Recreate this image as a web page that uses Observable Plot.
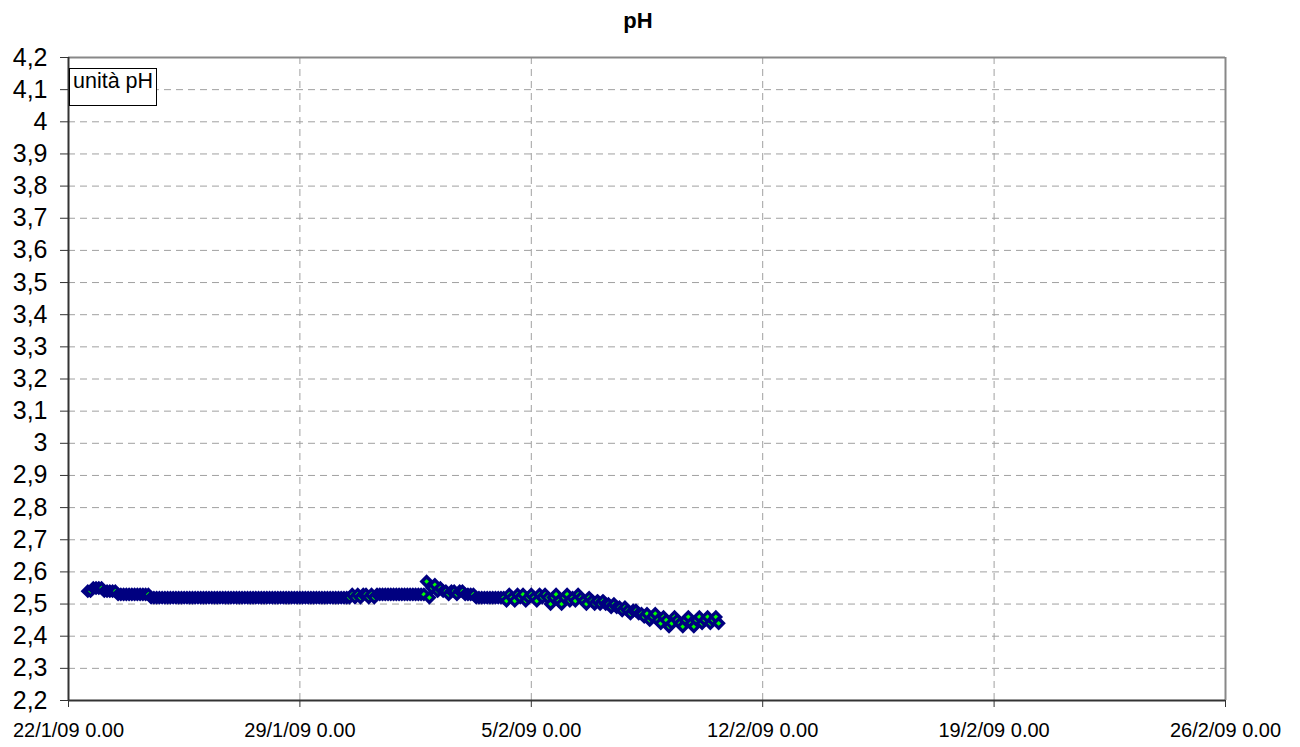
<!DOCTYPE html>
<html>
<head>
<meta charset="utf-8">
<script src="https://cdn.jsdelivr.net/npm/d3@7"></script>
<script src="https://cdn.jsdelivr.net/npm/@observablehq/plot@0.6"></script>
<style>
  html, body { margin: 0; padding: 0; background: #fff; }
  #wrap { position: relative; width: 1300px; height: 747px; }
  #unit { position: absolute; left: 69px; top: 68px; height: 36px; line-height: 36px;
          padding: 0 3px 0 3px; border: 1px solid #000; background: #fff;
          font: 21.5px "Liberation Sans", Arial, sans-serif; color: #000; }
</style>
</head>
<body>
<div id="wrap"></div>
<script>
// Chart title and unit label
const title = "pH";
const unitLabel = "unità pH";

// X-axis tick dates (weekly)
const xTickDates = ["2009-01-22", "2009-01-29", "2009-02-05", "2009-02-12", "2009-02-19", "2009-02-26"];
// Y-axis tick values
const yTickValues = [2.2, 2.3, 2.4, 2.5, 2.6, 2.7, 2.8, 2.9, 3, 3.1, 3.2, 3.3, 3.4, 3.5, 3.6, 3.7, 3.8, 3.9, 4, 4.1, 4.2];

// Sampling: first reading 22/1/09 14:00, one reading every 2 hours
const firstReading = "2009-01-22T14:00:00Z";
const samplingHours = 2;

// pH readings
const phValues = [
  2.54, 2.54,
  2.55, 2.55, 2.55, 2.55,
  2.54, 2.54, 2.54, 2.54, 2.54,
  2.53, 2.53, 2.53, 2.53, 2.53, 2.53, 2.53, 2.53, 2.53, 2.53, 2.53, 2.53,
  2.52, 2.52, 2.52, 2.52, 2.52, 2.52, 2.52, 2.52, 2.52, 2.52, 2.52, 2.52, 2.52, 2.52, 2.52, 2.52,
  2.52, 2.52, 2.52, 2.52, 2.52, 2.52, 2.52, 2.52, 2.52, 2.52, 2.52, 2.52, 2.52, 2.52, 2.52, 2.52,
  2.52, 2.52, 2.52, 2.52, 2.52, 2.52, 2.52, 2.52, 2.52, 2.52, 2.52, 2.52, 2.52, 2.52, 2.52, 2.52,
  2.52, 2.52, 2.52, 2.52, 2.52, 2.52, 2.52, 2.52, 2.52, 2.52, 2.52, 2.52, 2.52, 2.52, 2.52, 2.52,
  2.52, 2.52, 2.52, 2.52, 2.52, 2.52, 2.52, 2.52, 2.52,
  2.53, 2.52, 2.53, 2.52, 2.53, 2.53, 2.52, 2.53, 2.52, 2.53,
  2.53, 2.53, 2.53, 2.53, 2.53, 2.53, 2.53, 2.53, 2.53, 2.53, 2.53, 2.53, 2.53, 2.53, 2.53, 2.53, 2.53,
  2.57, 2.52,
  2.55, 2.56, 2.54, 2.55, 2.54, 2.54, 2.53, 2.54, 2.54, 2.53, 2.54, 2.54,
  2.53, 2.53, 2.53, 2.53,
  2.52, 2.52, 2.52, 2.52, 2.52, 2.52, 2.52, 2.52, 2.52, 2.52, 2.52,
  2.51, 2.53, 2.52, 2.51, 2.53, 2.52, 2.53, 2.51, 2.52, 2.53, 2.52, 2.51, 2.53, 2.52, 2.53, 2.52,
  2.50, 2.52, 2.53, 2.51, 2.50, 2.52, 2.53, 2.51, 2.52, 2.51, 2.53, 2.52, 2.51, 2.50, 2.52,
  2.51, 2.50, 2.51, 2.50, 2.51, 2.50, 2.50,
  2.49, 2.50, 2.49, 2.49, 2.48, 2.49,
  2.48, 2.47, 2.48, 2.48, 2.47,
  2.47, 2.46, 2.47, 2.45, 2.46, 2.47, 2.45,
  2.44, 2.46, 2.45, 2.43, 2.44, 2.46, 2.45, 2.44, 2.43, 2.45, 2.46, 2.44, 2.43, 2.45, 2.46, 2.44,
  2.45, 2.46, 2.44, 2.45, 2.46, 2.44
];

const t0 = new Date(firstReading).getTime();
const data = phValues.map((v, i) => ({ t: new Date(t0 + i * samplingHours * 3600e3), v }));
const xTicks = xTickDates.map(d => new Date(d + "T00:00:00Z"));
const innerY = yTickValues.filter(d => d > 2.2 && d < 4.2);
const innerX = xTicks.slice(1, -1);

const fmtY = d => String(d).replace(".", ",");
const fmtX = d => `${d.getUTCDate()}/${d.getUTCMonth() + 1}/09 0.00`;

const chart = Plot.plot({
  width: 1300,
  height: 747,
  marginLeft: 68,
  marginRight: 75,
  marginTop: 57,
  marginBottom: 47,
  style: { fontFamily: "'Liberation Sans', Arial, sans-serif", background: "#fff", color: "#000" },
  x: { type: "utc", domain: [xTicks[0], xTicks[xTicks.length - 1]] },
  y: { domain: [2.2, 4.2] },
  marks: [
    Plot.gridY(innerY, { stroke: "#a0a0a0", strokeOpacity: 1, strokeDasharray: "7,5" }),
    Plot.gridX(innerX, { stroke: "#a0a0a0", strokeOpacity: 1, strokeDasharray: "7,5" }),
    Plot.ruleY([4.2], { stroke: "#888", strokeWidth: 2 }),
    Plot.ruleX([xTicks[xTicks.length - 1]], { stroke: "#888", strokeWidth: 2 }),
    Plot.ruleX([xTicks[0]], { stroke: "#333", strokeWidth: 2 }),
    Plot.ruleY([2.2], { stroke: "#333", strokeWidth: 2 }),
    Plot.axisY(yTickValues, { tickFormat: fmtY, fontSize: 25, tickSize: 8, tickPadding: 13, stroke: "#333", label: null }),
    Plot.axisX(xTicks, { tickFormat: fmtX, fontSize: 20, tickSize: 7, tickPadding: 15, stroke: "#333", label: null }),
    Plot.dot(data, { x: "t", y: "v", symbol: "diamond2", r: 4.3, fill: "#00ff00", stroke: "#000080", strokeWidth: 3.4 }),
    Plot.text([title], { frameAnchor: "top", dx: -9, dy: -45, fontSize: 22, fontWeight: "bold", fill: "#000" })
  ]
});

const wrap = document.getElementById("wrap");
wrap.appendChild(chart);
const unit = document.createElement("div");
unit.id = "unit";
unit.textContent = unitLabel;
wrap.appendChild(unit);
</script>
</body>
</html>
